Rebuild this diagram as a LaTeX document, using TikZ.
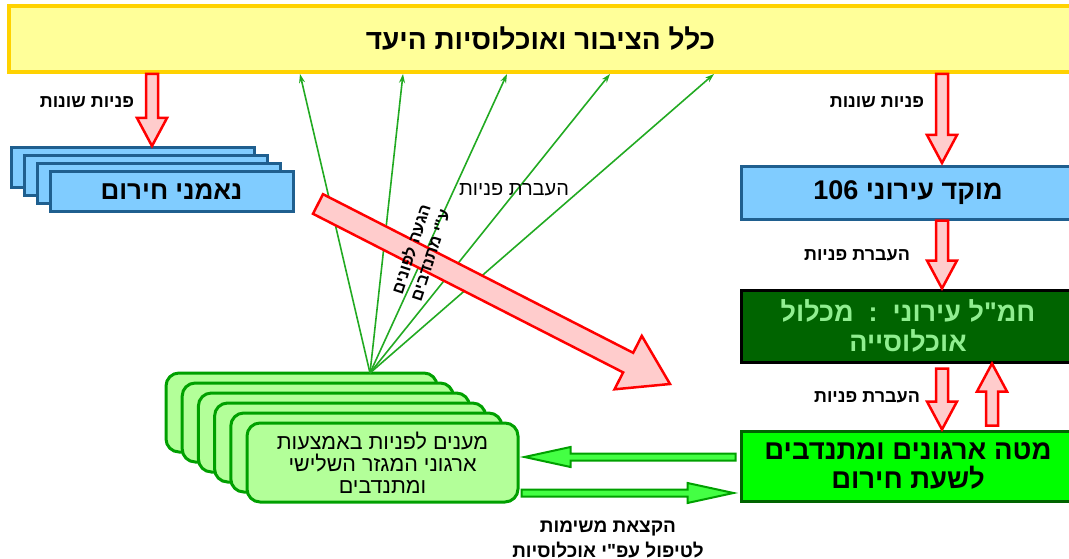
\documentclass[tikz,border=0pt]{standalone}
\usepackage{fontspec}
\newfontfamily\hebfont[Script=Hebrew]{Liberation Sans}
\TeXXeTstate=1
\usetikzlibrary{calc,arrows.meta}
\newcommand\heb[1]{\beginR #1\endR}
\definecolor{bannerfill}{HTML}{FFFF99}
\definecolor{bannerline}{HTML}{FFD200}
\definecolor{trustfill}{HTML}{80CCFF}
\definecolor{trustline}{HTML}{1F5F8F}
\definecolor{pinkfill}{HTML}{FFCCCC}
\definecolor{feedgreen}{HTML}{22AA22}
\definecolor{hamalfill}{HTML}{006400}
\definecolor{hamaltext}{HTML}{90EE90}
\definecolor{matehfill}{HTML}{00FF00}
\definecolor{answerfill}{HTML}{B3FF99}
\definecolor{answerline}{HTML}{00A000}
\definecolor{taskfill}{HTML}{44FF44}
\tikzset{
    bannerbox/.style={
        rectangle,
        draw=bannerline,
        fill=bannerfill,
        line width=4pt,
        minimum width=1063pt,
        minimum height=66pt,
        font=\hebfont\bfseries\fontsize{28}{32}\selectfont
    },
    trustbox/.style={
        rectangle,
        draw=trustline,
        fill=trustfill,
        line width=3pt,
        minimum width=243pt,
        minimum height=40pt,
        font=\hebfont\bfseries\fontsize{26}{30}\selectfont
    },
    cityboxes/.style={
        rectangle,
        line width=3pt,
        minimum width=334pt,
        align=center
    },
    answerbox/.style={
        rectangle,
        rounded corners=13pt,
        draw=answerline,
        fill=answerfill,
        line width=3pt,
        minimum width=271pt,
        minimum height=79pt,
        align=center,
        font=\hebfont\fontsize{21.5}{22}\selectfont
    },
    flowlabel/.style={
        font=\hebfont\bfseries\fontsize{18}{21}\selectfont
    },
    feedline/.style={
        draw=feedgreen,
        line width=1.6pt,
        -{Stealth[length=9pt,width=6pt]}
    },
    % wide arrow drawn as a polygon: shaft half width, head half width, head length
    blockarrow/.style n args={3}{
        to path={
            let \p1=(\tikztostart), \p2=(\tikztotarget),
                \n1={atan2(\y2-\y1,\x2-\x1)} in
            ($(\p1)+({\n1+90}:#1)$)
            -- ($(\p2)+({\n1+180}:#3)+({\n1+90}:#1)$)
            -- ($(\p2)+({\n1+180}:#3)+({\n1+90}:#2)$)
            -- (\p2)
            -- ($(\p2)+({\n1+180}:#3)+({\n1-90}:#2)$)
            -- ($(\p2)+({\n1+180}:#3)+({\n1-90}:#1)$)
            -- ($(\p1)+({\n1-90}:#1)$) -- cycle
        }
    },
    redarrow/.style={
        draw=red,
        fill=pinkfill,
        line width=2.5pt,
        line join=miter,
        blockarrow={6pt}{15pt}{28pt}
    },
    taskarrow/.style={
        draw=answerline,
        fill=taskfill,
        line width=2pt,
        line join=miter,
        blockarrow={3.5pt}{10pt}{46pt}
    }
}

\begin{document}
\begin{tikzpicture}[x=1pt,y=-1pt]
    \useasboundingbox (0,0) rectangle (1069,559);
    % top: the public
    \node[bannerbox] (banner) at (540.5,39) {\heb{כלל הציבור ואוכלוסיות היעד}};

    % emergency trustees (stack)
    \foreach \i in {3,2,1}
        \node[trustbox] (trust\i) at ({171.5-12.7*\i},{192-8*\i}) {};
    \node[trustbox] (trust) at (171.5,192) {\heb{נאמני חירום}};

    % city side
    \node[cityboxes, draw=trustline, fill=trustfill, minimum height=52pt,
          font=\hebfont\bfseries\fontsize{27}{30}\selectfont]
          (mokad) at (908,193) {\heb{מוקד עירוני \beginL 106\endL}};
    \node[cityboxes, draw=black, fill=hamalfill, text=hamaltext, minimum height=72pt,
          font=\hebfont\bfseries\fontsize{27}{30}\selectfont]
          (hamal) at (908,326) {\heb{חמ"ל עירוני\ \ :\ \ מכלול}\\\heb{אוכלוסייה}};
    \node[cityboxes, draw=hamalfill, fill=matehfill, minimum height=70pt,
          font=\hebfont\bfseries\fontsize{27.5}{29}\selectfont]
          (mateh) at (908,466) {\heb{מטה ארגונים ומתנדבים}\\\heb{לשעת חירום}};

    % third sector answers (stack)
    \foreach \i in {5,4,...,1}
        \node[answerbox] (answer\i) at ({382.5-16.2*\i},{462.5-10*\i}) {};
    \node[answerbox] (answer) at (382.5,462.5)
        {\heb{מענים לפניות באמצעות}\\\heb{ארגוני המגזר השלישי}\\\heb{ומתנדבים}};

    % green feedback lines
    \coordinate (hub) at (370,373);
    \foreach \x in {300,403,507,610,714}
        \draw[feedline] (hub) -- (banner.south -| \x,0);

    % red flows
    \coordinate (tip1) at (152,146);
    \coordinate (tip2) at (942,163);
    \coordinate (upx) at (992,0);
    \draw[redarrow] (banner.south -| tip1) to (tip1);
    \draw[redarrow] (banner.south -| tip2) to (tip2);
    \draw[redarrow] (mokad.south -| tip2) to (hamal.north -| tip2);
    \draw[redarrow] ([yshift=-5pt]hamal.south -| tip2) to (mateh.north -| tip2);
    \draw[redarrow] ([yshift=4pt]mateh.north -| upx) to (hamal.south -| upx);
    \coordinate (bigtail) at (318,204);
    \coordinate (bighead) at (670,384);
    \draw[redarrow, blockarrow={11pt}{30pt}{47pt}] (bigtail) to (bighead);

    % tasks between HQ and answers
    \draw[taskarrow] ([xshift=-4pt,yshift=9pt]mateh.west) to ([xshift=5pt,yshift=5.5pt]answer.east);
    \draw[taskarrow] ([xshift=2pt,yshift=-30.5pt]answer.east) to ([xshift=-6pt,yshift=-27pt]mateh.west);

    % labels
    \node[flowlabel] (various1) at (87,102) {\heb{פניות שונות}};
    \node[flowlabel] (various2) at (877,102) {\heb{פניות שונות}};
    \node[flowlabel] (pass1) at (857,255) {\heb{העברת פניות}};
    \node[flowlabel] (pass2) at (867,397) {\heb{העברת פניות}};
    \node[flowlabel, font=\hebfont\fontsize{20}{23}\selectfont] (pass3) at (514,190) {\heb{העברת פניות}};
    \node[flowlabel, font=\hebfont\bfseries\fontsize{16.5}{20}\selectfont, rotate=72, align=center]
        (reach) at (420,252) {\heb{הגעה לפונים}\\\heb{ע"י מתנדבים}};
    \node[flowlabel, font=\hebfont\bfseries\fontsize{19}{25}\selectfont, align=center]
        (assign) at (608,539) {\heb{הקצאת משימות}\\\heb{לטיפול עפ"י אוכלוסיות}};
\end{tikzpicture}
\end{document}
